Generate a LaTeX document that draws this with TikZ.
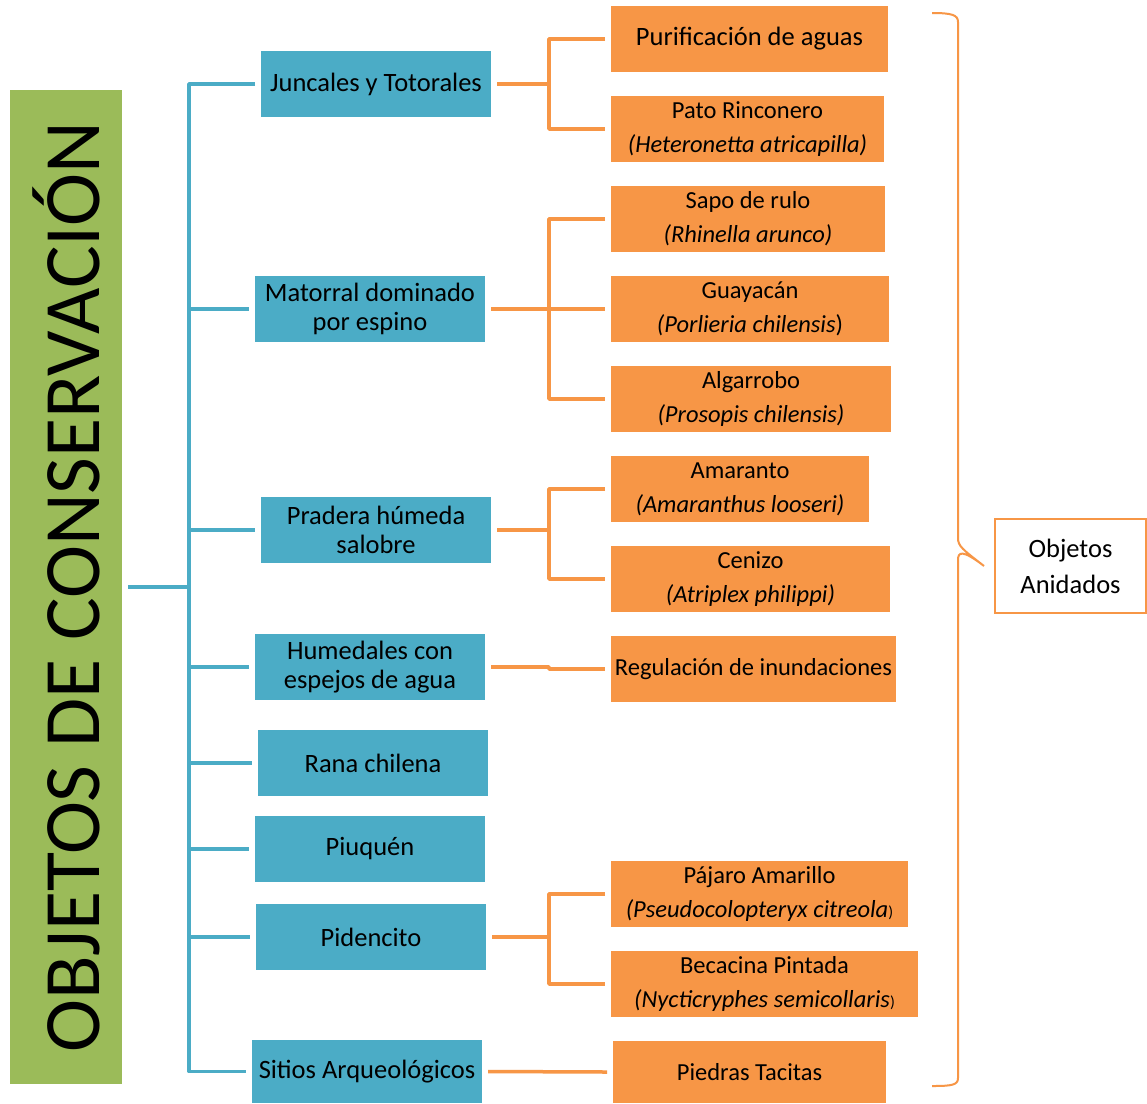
\documentclass[tikz,border=0pt]{standalone}
\usepackage{graphicx}
\usepackage{fontspec}
\setmainfont{Carlito}
\definecolor{azul}{RGB}{75,172,198}
\definecolor{naranja}{RGB}{247,150,70}
\definecolor{verde}{RGB}{155,187,89}
\tikzset{
  caja/.style={inner sep=0pt, outer sep=0pt, align=center, minimum height=66, anchor=north west, font=\fontsize{26.5}{29}\selectfont},
  azulcaja/.style={caja, fill=azul},
  naranjacaja/.style={caja, fill=naranja, font=\fontsize{24.5}{34}\selectfont},
  azullinea/.style={draw=azul, line width=3.5, line join=round},
  naranjalinea/.style={draw=naranja, line width=3.5, line join=round},
}
\begin{document}
\begin{tikzpicture}[x=1pt,y=-1pt]
\fill[white] (0,0) rectangle (1147,1103);
\useasboundingbox (0,0) rectangle (1147,1103);

\node[fill=verde, inner sep=0pt, minimum width=112, minimum height=994, font=\fontsize{80}{80}\selectfont] (obj) at (66,587) {\rotatebox{90}{OBJETOS DE CONSERVACIÓN}};

\node[azulcaja, minimum width=230] (jun) at (261,51) {Juncales y Totorales};

\node[azulcaja, minimum width=230] (mat) at (255,276) {Matorral dominado\\por espino};

\node[azulcaja, minimum width=230] (pra) at (261,497) {Pradera húmeda\\salobre};

\node[azulcaja, minimum width=230] (hum) at (255,634) {Humedales con\\espejos de agua};

\node[azulcaja, minimum width=230] (ran) at (258,730) {Rana chilena};

\node[azulcaja, minimum width=230] (piu) at (255,816) {Piuquén};

\node[azulcaja, minimum width=230] (pid) at (256,904) {Pidencito};

\node[azulcaja, minimum width=230, minimum height=63] (sit) at (252,1040) {Sitios Arqueológicos};

\node[naranjacaja, minimum width=277, font=\fontsize{26.5}{29}\selectfont] (pur) at (611,6) {Purificación de aguas};

\node[naranjacaja, minimum width=273] (pato) at (611,96) {Pato Rinconero\\\textit{(Heteronetta atricapilla)}};

\node[naranjacaja, minimum width=274] (sapo) at (611,186) {Sapo de rulo\\\textit{(Rhinella arunco)}};

\node[naranjacaja, minimum width=278] (guay) at (611,276) {Guayacán\\\textit{(Porlieria chilensis})};

\node[naranjacaja, minimum width=280] (alga) at (611,366) {Algarrobo\\\textit{(Prosopis chilensis)}};

\node[naranjacaja, minimum width=258] (ama) at (611,456) {Amaranto\\\textit{(Amaranthus looseri)}};

\node[naranjacaja, minimum width=279] (cen) at (611,546) {Cenizo\\\textit{(Atriplex philippi)}};

\node[naranjacaja, minimum width=285] (reg) at (611,636) {Regulación de inundaciones};

\node[naranjacaja, minimum width=297] (paj) at (611,861) {Pájaro Amarillo\\\textit{(Pseudocolopteryx citreola}{\fontsize{16}{16}\selectfont)}};

\node[naranjacaja, minimum width=307] (beca) at (611,951) {Becacina Pintada\\\textit{(Nycticryphes semicollaris}{\fontsize{16}{16}\selectfont)}};

\node[naranjacaja, minimum width=273, minimum height=62] (pie) at (613,1041) {Piedras Tacitas};

\node[caja, draw=naranja, line width=1.5, minimum width=151, minimum height=94, font=\fontsize{26.5}{36}\selectfont] (anid) at (995,519) {Objetos\\Anidados};

\coordinate (bus) at (189,587);

\coordinate (kj) at (549,0);

\draw[azullinea] ([xshift=6]obj.east) -- (bus);

\draw[azullinea] ([xshift=-6]jun.west) -| (bus |- sit.west) -- ([xshift=-6]sit.west);

\foreach \n in {mat,pra,hum,ran,piu,pid}
  \draw[azullinea] (bus |- \n.west) -- ([xshift=-6]\n.west);

\draw[naranjalinea] ([xshift=6]jun.east) -- (kj |- jun.east);

\draw[naranjalinea] ([xshift=-6]pur.west) -| (kj |- pato.west) -- ([xshift=-6]pato.west);

\draw[naranjalinea] ([xshift=6]mat.east) -- (kj |- mat.east);

\draw[naranjalinea] ([xshift=-6]sapo.west) -| (kj |- alga.west) -- ([xshift=-6]alga.west);

\draw[naranjalinea] (kj |- guay.west) -- ([xshift=-6]guay.west);

\draw[naranjalinea] ([xshift=6]pra.east) -- (kj |- pra.east);

\draw[naranjalinea] ([xshift=-6]ama.west) -| (kj |- cen.west) -- ([xshift=-6]cen.west);

\draw[naranjalinea] ([xshift=6]hum.east) -- (kj |- hum.east) -- (kj |- reg.west) -- ([xshift=-6]reg.west);

\draw[naranjalinea] ([xshift=6]pid.east) -- (kj |- pid.east);

\draw[naranjalinea] ([xshift=-6]paj.west) -| (kj |- beca.west) -- ([xshift=-6]beca.west);

\draw[naranjalinea] ([xshift=6]sit.east) -- ([xshift=-6]pie.west);

\coordinate (punta) at ([xshift=-11]anid.west);

\draw[draw=naranja, line width=2] (932,13) .. controls (952,13) and (958,15) .. (958,22) -- (958,538) .. controls (958,546) and (962,549) .. (punta) .. controls (962,549) and (958,552) .. (958,560) -- (958,1078) .. controls (958,1085) and (952,1086) .. (932,1086);
\end{tikzpicture}
\end{document}
